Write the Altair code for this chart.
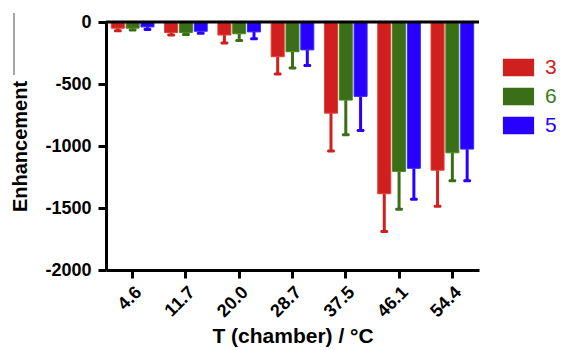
import altair as alt
import pandas as pd

temps = ["4.6", "11.7", "20.0", "28.7", "37.5", "46.1", "54.4"]
series = ["3", "6", "5"]
mean_3 = [-50, -85, -105, -280, -735, -1385, -1195]
err_3 = [20, 20, 65, 140, 305, 305, 290]
mean_6 = [-50, -85, -95, -240, -630, -1205, -1055]
err_6 = [15, 15, 55, 130, 280, 305, 225]
mean_5 = [-40, -75, -80, -225, -600, -1180, -1025]
err_5 = [20, 15, 55, 125, 275, 250, 255]
y_ticks = [0, -500, -1000, -1500, -2000]

fills = ["#d01f1f", "#3a6e17", "#2800ff"]
strokes = ["#e0402e", "#4a8a26", "#3a2cff"]

rows = []
for s, means, errs in [("3", mean_3, err_3), ("6", mean_6, err_6), ("5", mean_5, err_5)]:
    for t, m, e in zip(temps, means, errs):
        rows.append({"T": t, "series": s, "value": m, "low": m - e})
df = pd.DataFrame(rows)

FONT = "Liberation Sans"

x = alt.X("T:N", sort=temps, scale=alt.Scale(paddingInner=0.2, paddingOuter=0.1),
          axis=alt.Axis(title="T (chamber) / °C", labelAngle=-45, labelFont=FONT,
                        labelFontWeight="bold", labelFontSize=18, labelColor="black",
                        tickSize=8, tickWidth=3, tickColor="black", domainWidth=3,
                        domainColor="black", labelPadding=5, titleFont=FONT,
                        titleFontWeight="bold", titleFontSize=21, titleColor="black",
                        titlePadding=5))
xo = alt.XOffset("series:N", sort=series, scale=alt.Scale(paddingInner=0.12))
y_scale = alt.Scale(domain=[-2000, 0], nice=False)
legend = alt.Legend(title=None, orient="none", legendX=402, legendY=35,
                    symbolType="M-1.8,-1H1.8V1H-1.8Z", symbolSize=300,
                    symbolStrokeWidth=0, symbolOpacity=1, labelFont=FONT, labelFontSize=21,
                    labelColor={"expr": "datum.label == '3' ? '#d42020' : datum.label == '6' ? '#3c7a1a' : '#2a00ff'"},
                    labelOffset=16, rowPadding=7)
color = alt.Color("series:N", sort=series, scale=alt.Scale(domain=series, range=fills),
                  legend=legend)

base = alt.Chart(df)

bars = base.mark_bar(strokeWidth=1, opacity=1).encode(
    x=x, xOffset=xo,
    y=alt.Y("value:Q", scale=y_scale,
            axis=alt.Axis(values=y_ticks, title="Enhancement", labelFont=FONT,
                          labelExpr="'' + datum.value",
                          labelFontWeight="bold", labelFontSize=18, labelColor="black",
                          tickSize=8, tickWidth=3, tickColor="black", domainWidth=3,
                          domainColor="black", labelPadding=7, grid=False,
                          titleFont=FONT, titleFontWeight="bold", titleFontSize=20,
                          titleColor="black", titlePadding=14)),
    color=color,
    stroke=alt.Stroke("series:N", sort=series, scale=alt.Scale(domain=series, range=strokes), legend=None),
)

err = base.mark_rule(strokeWidth=3).encode(
    x=x, xOffset=xo, y="value:Q", y2="low:Q", color=color,
)

caps = base.mark_tick(thickness=3, size=8, cornerRadius=1.5, opacity=1).encode(
    x=x, xOffset=xo, y="low:Q", color=color,
)

zero = alt.Chart(pd.DataFrame({"z": [0]})).mark_rule(color="black", strokeWidth=3).encode(
    y=alt.Y("z:Q", scale=y_scale)
)

artifact = alt.Chart(pd.DataFrame({"z": [0]})).mark_rule(color="#888888", strokeWidth=1.5).encode(
    x=alt.value(-92), y=alt.value(-9), y2=alt.value(53)
)

chart = alt.layer(err, caps, bars, zero, artifact).properties(
    width=373, height=248,
    autosize=alt.AutoSizeParams(type="none"),
    padding={"left": 106, "top": 22, "right": 84, "bottom": 80},
).configure_view(stroke=None)

chart.save("out.html", embed_options={"renderer": "svg", "actions": False})
